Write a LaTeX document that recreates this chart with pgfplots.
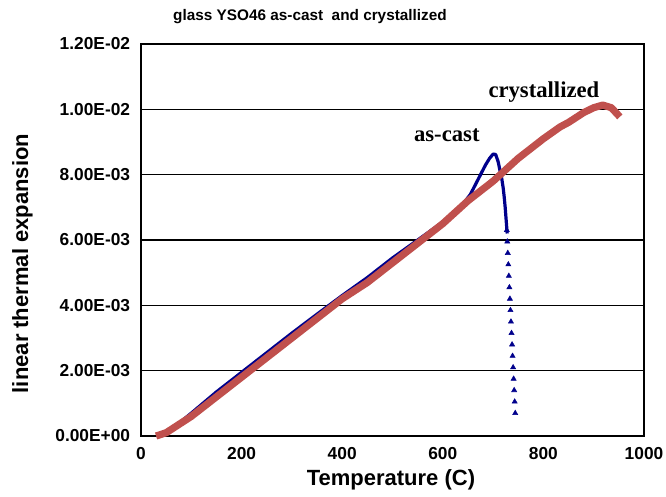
\documentclass[border=0pt]{standalone}
\usepackage{pgfplots}
\pgfplotsset{compat=1.18}
\usepackage{fontspec}
\setmainfont{Liberation Sans}
\newfontfamily\serifb{Liberation Serif}
\definecolor{cred}{RGB}{192,80,77}
\definecolor{cblue}{RGB}{0,0,140}
\begin{document}
\begin{tikzpicture}
\begin{axis}[
  scale only axis,
  width=377.25pt, height=294pt,
  xmin=0, xmax=1000, ymin=0, ymax=0.012,
  xtick={0,200,400,600,800,1000},
  xticklabels={0,200,400,600,800,1000},
  ytick={0,0.002,0.004,0.006,0.008,0.01,0.012},
  yticklabels={0.00E+00,2.00E-03,4.00E-03,6.00E-03,8.00E-03,1.00E-02,1.20E-02},
  scaled y ticks=false,
  major tick length=0pt,
  ymajorgrids,
  grid style={black, line width=1.1pt},
  axis line style={black, line width=1.6pt},
  tick label style={font=\fontsize{13}{15}\selectfont\bfseries},
  yticklabel style={anchor=east, inner sep=0pt, xshift=-8pt},
  xticklabel style={anchor=north, inner sep=0pt, yshift=-8pt},
  xlabel={Temperature (C)},
  ylabel={linear thermal expansion},
  label style={font=\fontsize{16.5}{19}\selectfont\bfseries},
  xlabel style={at={(rel axis cs:0.497,0)}, anchor=center, yshift=-33pt},
  ylabel style={at={(rel axis cs:0,0.44)}, anchor=center, rotate=0, yshift=89pt},
  clip=false,
]
% as-cast (blue) line
\addplot[cblue, line width=2.4pt, line join=round] coordinates {
(40,0) (60,0.0002) (100,0.0007) (150,0.00135) (200,0.00195) (250,0.00255)
(300,0.00315) (350,0.00373) (400,0.0043) (450,0.00485) (500,0.00545)
(550,0.0060) (600,0.00655) (640,0.0071) (655,0.0074) (665,0.0077)
(675,0.0080) (685,0.0083) (693,0.0085) (700,0.00863) (705,0.00862)
(710,0.0084) (714,0.0081) (717,0.0079) (720,0.0076) (722,0.00733)
(724,0.0070) (726,0.0066) (728,0.0062)
};
% as-cast (blue) triangle markers on the drop
\addplot[cblue, only marks, mark=triangle*, mark size=2.2pt] coordinates {
(727.2,0.0063) (728.2,0.00595) (729.2,0.0056) (730.3,0.00525) (731.3,0.0049)
(732.4,0.00455) (733.4,0.0042) (734.5,0.00385) (735.5,0.0035) (736.6,0.00315)
(737.7,0.0028) (738.7,0.00245) (739.8,0.0021) (740.8,0.00175) (741.9,0.0014)
(742.9,0.00105) (744,0.0007)
};
% crystallized (red)
\addplot[cred, line width=5.4pt, line join=round] coordinates {
(30,0) (50,0.0001) (100,0.0006) (150,0.0012) (200,0.0018) (250,0.0024)
(300,0.0030) (350,0.0036) (400,0.0042) (450,0.0047) (500,0.0053)
(550,0.0059) (600,0.0065) (650,0.0072) (700,0.0078) (750,0.0085)
(800,0.0091) (833,0.00946) (850,0.0096) (880,0.0099) (900,0.01005)
(918,0.01013) (935,0.01005) (952,0.00977)
};
\node[font=\serifb\fontsize{17}{19}\selectfont\bfseries] at (axis cs:608,0.00921) {as-cast};
\node[font=\serifb\fontsize{17}{19}\selectfont\bfseries] at (axis cs:801,0.01053) {crystallized};
\end{axis}
\node[font=\fontsize{11.5}{14}\selectfont\bfseries] at (126.75pt,314.5pt) {glass YSO46 as-cast\ \ and crystallized};
\pgfresetboundingbox
\path[use as bounding box] (-105.75pt,-45pt) rectangle (393.75pt,327pt);
\end{tikzpicture}
\end{document}
